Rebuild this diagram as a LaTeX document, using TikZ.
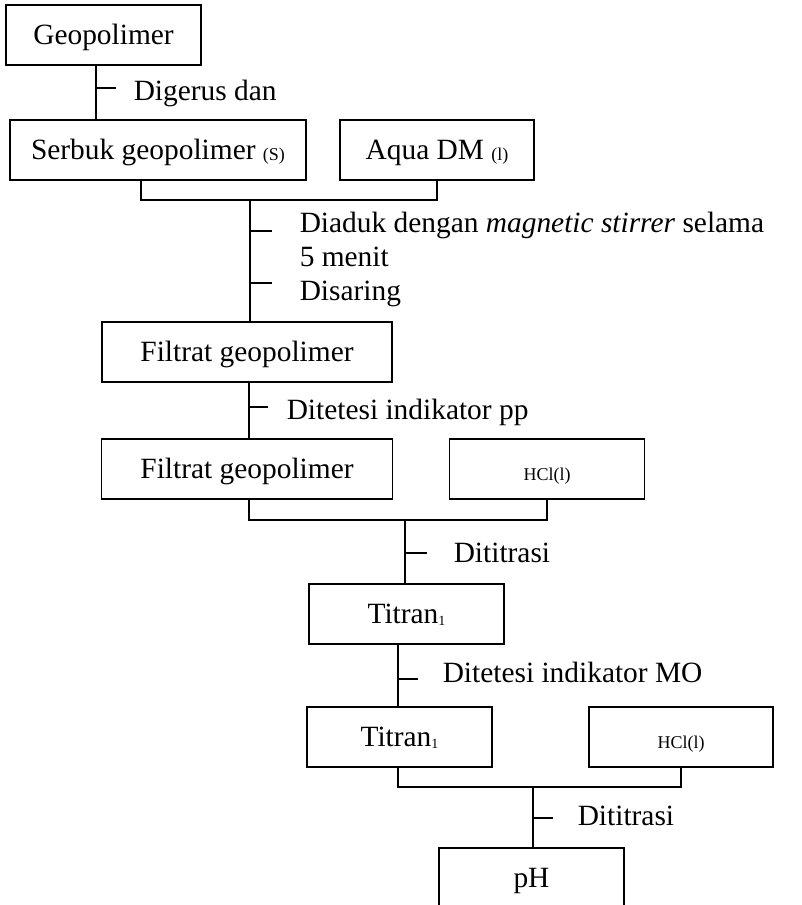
\documentclass[tikz,border=0pt]{standalone}
\usepackage{fontspec}
\setmainfont{Liberation Serif}
\usetikzlibrary{arrows,calc,positioning}

\begin{document}
\begin{tikzpicture}[auto,x=1pt,y=-1pt,line width=1.5pt]
\tikzstyle{block} = [draw, rectangle, minimum height=60pt, inner sep=0pt, outer sep=0pt, text height=19.4pt, text depth=0pt, font=\fontsize{29.4}{34}\selectfont]
\tikzstyle{hclbox} = [text height=22pt, font=\fontsize{18}{22}\selectfont]
\tikzstyle{remark} = [inner sep=0pt, anchor=west, font=\fontsize{29.4}{34}\selectfont]
\tikzstyle{remarkline} = [remark, text height=19.4pt, text depth=0pt]

\useasboundingbox (0,0) rectangle (802,905);
\clip (0,0) rectangle (802,905);

\node [block, minimum width=195pt] (geo) at (103.5,35) {Geopolimer};
\node [block, minimum width=296pt, below = 55pt of geo, xshift=54.5pt] (serbuk) {Serbuk geopolimer \raisebox{-1pt}{\fontsize{18}{18}\selectfont(S)}};
\node [block, minimum width=194pt, right = 34pt of serbuk] (aqua) {Aqua DM \raisebox{-1pt}{\fontsize{18}{18}\selectfont(l)}};
\node [block, minimum width=290pt, below = 142pt of serbuk, xshift=89pt] (filtrat1) {Filtrat geopolimer};
\node [block, minimum width=291pt, below = 57pt of filtrat1] (filtrat2) {Filtrat geopolimer};
\node [block, hclbox, minimum width=195pt, right = 57pt of filtrat2] (hcl1) {HCl(l)};
\node [block, minimum width=195pt, below = 85pt of filtrat2, xshift=159.5pt] (titran1) {Titran\raisebox{-1.5pt}{\fontsize{14}{14}\selectfont 1}};
\node [block, minimum width=185pt, below = 63pt of titran1, xshift=-7pt] (titran2) {Titran\raisebox{-1.5pt}{\fontsize{14}{14}\selectfont 1}};
\node [block, hclbox, minimum width=184pt, right = 97pt of titran2] (hcl2) {HCl(l)};
\node [block, minimum width=185pt, below = 81pt of titran2, xshift=132pt] (ph) {pH};

% geopolimer -> serbuk
\node [coordinate, below = 0pt of geo.south, xshift=-7.5pt] (c1) {};
\node [coordinate, below = 23pt of c1] (t1) {};
\node [coordinate, right = 20pt of t1] (t1e) {};
\node [remarkline, right = 17pt of t1e, yshift=-3pt] (l1) {Digerus dan};
\draw [-] (c1) --node{} (c1 |- serbuk.north);
\draw [-] (t1) --node{} (t1e);

% serbuk + aqua -> filtrat
\node [coordinate, below = 20pt of serbuk.south, xshift=-17pt] (b1) {};
\node [coordinate, below = 20pt of aqua.south] (b2) {};
\node [coordinate, right = 109pt of b1] (b3) {};
\node [coordinate, below = 31pt of b3] (t2) {};
\node [coordinate, right = 22pt of t2] (t2e) {};
\node [coordinate, below = 83pt of b3] (t3) {};
\node [coordinate, right = 22pt of t3] (t3e) {};
\node [remark, align=left, right = 27pt of t2e, yshift=-28pt] (l2) {Diaduk dengan \textit{magnetic stirrer} selama\\5 menit\\Disaring};
\draw [-] (b1 |- serbuk.south) -- (b1) -- (b2) -- (aqua.south);
\draw [-] (b3) --node{} (b3 |- filtrat1.north);
\draw [-] (t2) --node{} (t2e);
\draw [-] (t3) --node{} (t3e);

% filtrat -> filtrat
\node [coordinate, below = 0pt of filtrat1.south, xshift=2pt] (c3) {};
\node [coordinate, below = 25pt of c3] (t4) {};
\node [coordinate, right = 19pt of t4] (t4e) {};
\node [remarkline, right = 18pt of t4e, yshift=-3pt] (l3) {Ditetesi indikator pp};
\draw [-] (c3) --node{} (c3 |- filtrat2.north);
\draw [-] (t4) --node{} (t4e);

% filtrat + hcl -> titran
\node [coordinate, below = 21pt of filtrat2.south, xshift=2pt] (b4) {};
\node [coordinate, below = 21pt of hcl1.south] (b5) {};
\node [coordinate, right = 156pt of b4] (b6) {};
\node [coordinate, below = 33pt of b6] (t5) {};
\node [coordinate, right = 22pt of t5] (t5e) {};
\node [remarkline, right = 26pt of t5e] (l4) {Dititrasi};
\draw [-] (b4 |- filtrat2.south) -- (b4) -- (b5) -- (hcl1.south);
\draw [-] (b6) --node{} (b6 |- titran1.north);
\draw [-] (t5) --node{} (t5e);

% titran -> titran
\node [coordinate, below = 0pt of titran1.south, xshift=-8.5pt] (c6) {};
\node [coordinate, below = 35pt of c6] (t6) {};
\node [coordinate, right = 20pt of t6] (t6e) {};
\node [remarkline, right = 24pt of t6e, yshift=6.5pt] (l5) {Ditetesi indikator MO};
\draw [-] (c6) --node{} (c6 |- titran2.north);
\draw [-] (t6) --node{} (t6e);

% titran + hcl -> pH
\node [coordinate, below = 20pt of titran2.south, xshift=-1.5pt] (b7) {};
\node [coordinate, below = 20pt of hcl2.south] (b8) {};
\node [coordinate, right = 135pt of b7] (b9) {};
\node [coordinate, below = 31pt of b9] (t7) {};
\node [coordinate, right = 20pt of t7] (t7e) {};
\node [remarkline, right = 24pt of t7e, yshift=2.5pt] (l6) {Dititrasi};
\draw [-] (b7 |- titran2.south) -- (b7) -- (b8) -- (hcl2.south);
\draw [-] (b9) --node{} (b9 |- ph.north);
\draw [-] (t7) --node{} (t7e);
\end{tikzpicture}
\end{document}
